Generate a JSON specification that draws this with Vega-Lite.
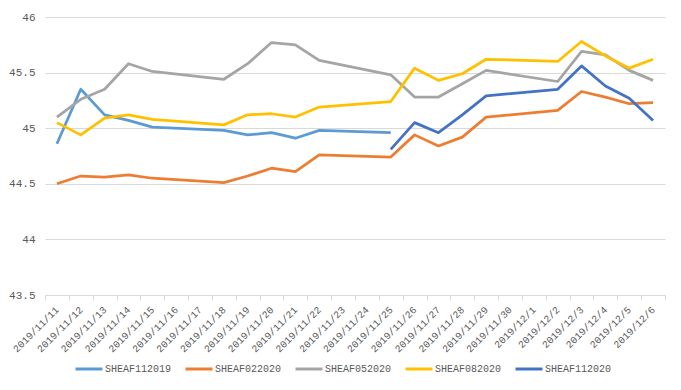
{
  "$schema": "https://vega.github.io/schema/vega-lite/v6.json",
  "width": 620,
  "height": 278,
  "autosize": {"type": "none"},
  "padding": {"left": 45, "top": 17, "right": 16, "bottom": 95},
  "background": "white",
  "config": {
    "view": {"stroke": null},
    "font": "Liberation Mono",
    "axis": {"labelColor": "#595959", "labelFont": "Liberation Mono", "labelFontSize": 10}
  },
  "data": {
    "values": [
      {"date": "2019/11/11", "series": "SHEAF112019", "value": 44.86},
      {"date": "2019/11/12", "series": "SHEAF112019", "value": 45.35},
      {"date": "2019/11/13", "series": "SHEAF112019", "value": 45.12},
      {"date": "2019/11/14", "series": "SHEAF112019", "value": 45.07},
      {"date": "2019/11/15", "series": "SHEAF112019", "value": 45.01},
      {"date": "2019/11/18", "series": "SHEAF112019", "value": 44.98},
      {"date": "2019/11/19", "series": "SHEAF112019", "value": 44.94},
      {"date": "2019/11/20", "series": "SHEAF112019", "value": 44.96},
      {"date": "2019/11/21", "series": "SHEAF112019", "value": 44.91},
      {"date": "2019/11/22", "series": "SHEAF112019", "value": 44.98},
      {"date": "2019/11/25", "series": "SHEAF112019", "value": 44.96},

      {"date": "2019/11/11", "series": "SHEAF022020", "value": 44.50},
      {"date": "2019/11/12", "series": "SHEAF022020", "value": 44.57},
      {"date": "2019/11/13", "series": "SHEAF022020", "value": 44.56},
      {"date": "2019/11/14", "series": "SHEAF022020", "value": 44.58},
      {"date": "2019/11/15", "series": "SHEAF022020", "value": 44.55},
      {"date": "2019/11/18", "series": "SHEAF022020", "value": 44.51},
      {"date": "2019/11/19", "series": "SHEAF022020", "value": 44.57},
      {"date": "2019/11/20", "series": "SHEAF022020", "value": 44.64},
      {"date": "2019/11/21", "series": "SHEAF022020", "value": 44.61},
      {"date": "2019/11/22", "series": "SHEAF022020", "value": 44.76},
      {"date": "2019/11/25", "series": "SHEAF022020", "value": 44.74},
      {"date": "2019/11/26", "series": "SHEAF022020", "value": 44.94},
      {"date": "2019/11/27", "series": "SHEAF022020", "value": 44.84},
      {"date": "2019/11/28", "series": "SHEAF022020", "value": 44.92},
      {"date": "2019/11/29", "series": "SHEAF022020", "value": 45.10},
      {"date": "2019/12/2", "series": "SHEAF022020", "value": 45.16},
      {"date": "2019/12/3", "series": "SHEAF022020", "value": 45.33},
      {"date": "2019/12/4", "series": "SHEAF022020", "value": 45.28},
      {"date": "2019/12/5", "series": "SHEAF022020", "value": 45.22},
      {"date": "2019/12/6", "series": "SHEAF022020", "value": 45.23},

      {"date": "2019/11/11", "series": "SHEAF052020", "value": 45.10},
      {"date": "2019/11/12", "series": "SHEAF052020", "value": 45.26},
      {"date": "2019/11/13", "series": "SHEAF052020", "value": 45.35},
      {"date": "2019/11/14", "series": "SHEAF052020", "value": 45.58},
      {"date": "2019/11/15", "series": "SHEAF052020", "value": 45.51},
      {"date": "2019/11/18", "series": "SHEAF052020", "value": 45.44},
      {"date": "2019/11/19", "series": "SHEAF052020", "value": 45.58},
      {"date": "2019/11/20", "series": "SHEAF052020", "value": 45.77},
      {"date": "2019/11/21", "series": "SHEAF052020", "value": 45.75},
      {"date": "2019/11/22", "series": "SHEAF052020", "value": 45.61},
      {"date": "2019/11/25", "series": "SHEAF052020", "value": 45.48},
      {"date": "2019/11/26", "series": "SHEAF052020", "value": 45.28},
      {"date": "2019/11/27", "series": "SHEAF052020", "value": 45.28},
      {"date": "2019/11/28", "series": "SHEAF052020", "value": 45.40},
      {"date": "2019/11/29", "series": "SHEAF052020", "value": 45.52},
      {"date": "2019/12/2", "series": "SHEAF052020", "value": 45.42},
      {"date": "2019/12/3", "series": "SHEAF052020", "value": 45.69},
      {"date": "2019/12/4", "series": "SHEAF052020", "value": 45.66},
      {"date": "2019/12/5", "series": "SHEAF052020", "value": 45.52},
      {"date": "2019/12/6", "series": "SHEAF052020", "value": 45.43},

      {"date": "2019/11/11", "series": "SHEAF082020", "value": 45.05},
      {"date": "2019/11/12", "series": "SHEAF082020", "value": 44.94},
      {"date": "2019/11/13", "series": "SHEAF082020", "value": 45.09},
      {"date": "2019/11/14", "series": "SHEAF082020", "value": 45.12},
      {"date": "2019/11/15", "series": "SHEAF082020", "value": 45.08},
      {"date": "2019/11/18", "series": "SHEAF082020", "value": 45.03},
      {"date": "2019/11/19", "series": "SHEAF082020", "value": 45.12},
      {"date": "2019/11/20", "series": "SHEAF082020", "value": 45.13},
      {"date": "2019/11/21", "series": "SHEAF082020", "value": 45.10},
      {"date": "2019/11/22", "series": "SHEAF082020", "value": 45.19},
      {"date": "2019/11/25", "series": "SHEAF082020", "value": 45.24},
      {"date": "2019/11/26", "series": "SHEAF082020", "value": 45.54},
      {"date": "2019/11/27", "series": "SHEAF082020", "value": 45.43},
      {"date": "2019/11/28", "series": "SHEAF082020", "value": 45.49},
      {"date": "2019/11/29", "series": "SHEAF082020", "value": 45.62},
      {"date": "2019/12/2", "series": "SHEAF082020", "value": 45.60},
      {"date": "2019/12/3", "series": "SHEAF082020", "value": 45.78},
      {"date": "2019/12/4", "series": "SHEAF082020", "value": 45.65},
      {"date": "2019/12/5", "series": "SHEAF082020", "value": 45.54},
      {"date": "2019/12/6", "series": "SHEAF082020", "value": 45.62},

      {"date": "2019/11/25", "series": "SHEAF112020", "value": 44.81},
      {"date": "2019/11/26", "series": "SHEAF112020", "value": 45.05},
      {"date": "2019/11/27", "series": "SHEAF112020", "value": 44.96},
      {"date": "2019/11/28", "series": "SHEAF112020", "value": 45.12},
      {"date": "2019/11/29", "series": "SHEAF112020", "value": 45.29},
      {"date": "2019/12/2", "series": "SHEAF112020", "value": 45.35},
      {"date": "2019/12/3", "series": "SHEAF112020", "value": 45.56},
      {"date": "2019/12/4", "series": "SHEAF112020", "value": 45.38},
      {"date": "2019/12/5", "series": "SHEAF112020", "value": 45.27},
      {"date": "2019/12/6", "series": "SHEAF112020", "value": 45.07}
    ]
  },
  "mark": {"type": "line", "strokeWidth": 2.75, "strokeJoin": "round"},
  "encoding": {
    "x": {
      "field": "date",
      "type": "ordinal",
      "bandPosition": 0.5,
      "scale": {
        "type": "band",
        "paddingInner": 0,
        "paddingOuter": 0,
        "domain": ["2019/11/11","2019/11/12","2019/11/13","2019/11/14","2019/11/15","2019/11/16","2019/11/17","2019/11/18","2019/11/19","2019/11/20","2019/11/21","2019/11/22","2019/11/23","2019/11/24","2019/11/25","2019/11/26","2019/11/27","2019/11/28","2019/11/29","2019/11/30","2019/12/1","2019/12/2","2019/12/3","2019/12/4","2019/12/5","2019/12/6"]
      },
      "axis": {
        "title": null,
        "labelAngle": -45,
        "labelAlign": "right",
        "labelBaseline": "middle",
        "labelFontSize": 10,
        "labelPadding": 8,
        "domainColor": "#D9D9D9",
        "tickColor": "#D9D9D9",
        "tickBand": "extent",
        "tickSize": 5,
        "grid": false
      }
    },
    "y": {
      "field": "value",
      "type": "quantitative",
      "scale": {"domain": [43.5, 46], "zero": false, "nice": false},
      "axis": {
        "title": null,
        "values": [43.5, 44, 44.5, 45, 45.5, 46],
        "format": ".1~f",
        "domain": false,
        "ticks": false,
        "gridColor": "#D9D9D9",
        "labelPadding": 10,
        "labelFontSize": 11
      }
    },
    "color": {
      "field": "series",
      "type": "nominal",
      "scale": {
        "domain": ["SHEAF112019", "SHEAF022020", "SHEAF052020", "SHEAF082020", "SHEAF112020"],
        "range": ["#5B9BD5", "#ED7D31", "#A5A5A5", "#FFC000", "#4472C4"]
      },
      "legend": {
        "title": null,
        "orient": "none",
        "direction": "horizontal",
        "legendX": 29,
        "legendY": 337,
        "symbolType": "stroke",
        "symbolSize": 729,
        "symbolStrokeWidth": 3,
        "labelFont": "Liberation Mono",
        "labelFontSize": 10,
        "labelColor": "#595959",
        "labelOffset": 1,
        "columnPadding": 7
      }
    }
  }
}
